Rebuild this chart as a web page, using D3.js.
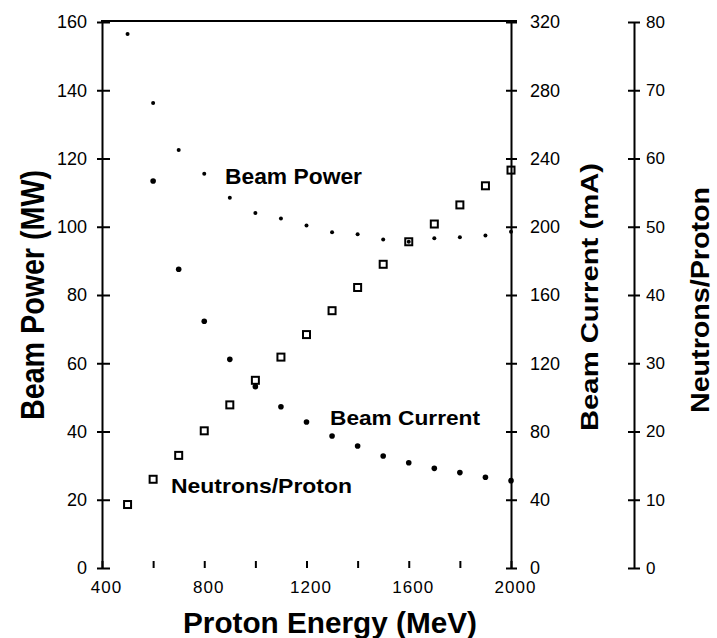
<!DOCTYPE html>
<html>
<head>
<meta charset="utf-8">
<script src="https://cdn.jsdelivr.net/npm/d3@7"></script>
<style>
  body { margin: 0; background: #fff; }
  svg { display: block; font-family: "Liberation Sans", Arial, Helvetica, sans-serif; }
</style>
</head>
<body>
<svg id="chart" width="717" height="638"></svg>
<script>
// values
const energy = [500, 600, 700, 800, 900, 1000, 1100, 1200, 1300, 1400, 1500, 1600, 1700, 1800, 1900, 2000];
const beamPower = [156.5, 136.3, 122.5, 115.5, 108.5, 104.0, 102.4, 100.4, 98.4, 97.8, 96.3, 95.6, 96.6, 96.9, 97.4, 98.5];
const beamCurrent = [null, 226.8, 175.1, 144.6, 122.3, 106.3, 94.5, 85.6, 77.4, 71.5, 65.6, 61.7, 58.4, 55.9, 53.2, 51.2];
const neutronsPerProton = [9.3, 13.0, 16.5, 20.1, 23.9, 27.5, 30.9, 34.2, 37.7, 41.1, 44.5, 47.8, 50.4, 53.2, 56.0, 58.3];

const energyTicks = [400, 600, 800, 1000, 1200, 1400, 1600, 1800, 2000];
const energyLabels = [400, 800, 1200, 1600, 2000];
const powerTicks = [0, 20, 40, 60, 80, 100, 120, 140, 160];
const currentTicks = [0, 40, 80, 120, 160, 200, 240, 280, 320];
const neutronTicks = [0, 10, 20, 30, 40, 50, 60, 70, 80];

const svg = d3.select("#chart");
const ink = "#000";

const x = d3.scaleLinear().domain([400, 2000]).range([102, 511]);
const yP = d3.scaleLinear().domain([0, 160]).range([568, 22]);
const yC = d3.scaleLinear().domain([0, 320]).range([568, 22]);
const yN = d3.scaleLinear().domain([0, 80]).range([568, 22]);
const nAxisX = 634;

function styleAxis(g, size) {
  g.attr("font-family", null).attr("font-size", null);
  g.select(".domain").attr("stroke", ink).attr("stroke-width", 2);
  g.selectAll(".tick text").attr("fill", ink).style("font-size", size + "px");
}

// top frame line
svg.append("line")
  .attr("x1", x(400) - 1).attr("x2", x(2000) + 6)
  .attr("y1", yP(160) - 1).attr("y2", yP(160) - 1)
  .attr("stroke", ink).attr("stroke-width", 2);

// left axis (Beam Power)
const gL = svg.append("g").attr("transform", `translate(${x(400)},0)`)
  .call(d3.axisLeft(yP).tickValues(powerTicks).tickSize(0).tickSizeOuter(0).tickPadding(15));
styleAxis(gL, 18);
gL.selectAll(".tick").append("line").attr("x1", -5).attr("x2", 8).attr("stroke", ink).attr("stroke-width", 2);

// right axis (Beam Current)
const gR = svg.append("g").attr("transform", `translate(${x(2000)},0)`)
  .call(d3.axisRight(yC).tickValues(currentTicks).tickSize(0).tickSizeOuter(0).tickPadding(19));
styleAxis(gR, 18);
gR.selectAll(".tick").append("line").attr("x1", -5).attr("x2", 6).attr("stroke", ink).attr("stroke-width", 2);

// third axis (Neutrons/Proton)
const gN = svg.append("g").attr("transform", `translate(${nAxisX},0)`)
  .call(d3.axisRight(yN).tickValues(neutronTicks).tickSize(0).tickSizeOuter(0).tickPadding(12));
styleAxis(gN, 17);
gN.selectAll(".tick").append("line").attr("x1", -6).attr("x2", 6).attr("stroke", ink).attr("stroke-width", 2);

// bottom ticks and labels (no baseline in the scan)
const gB = svg.append("g").attr("transform", `translate(0,${yP(0)})`)
  .call(d3.axisBottom(x).tickValues(energyTicks)
    .tickFormat(d => energyLabels.includes(d) ? d : "")
    .tickSize(-7).tickSizeOuter(0).tickPadding(13));
styleAxis(gB, 17);
gB.select(".domain").remove();
gB.selectAll(".tick line").attr("stroke", ink).attr("stroke-width", 2);
gB.selectAll(".tick text").attr("dx", 4).style("letter-spacing", "1px");

// series
const rows = energy.map((e, i) => ({ e, p: beamPower[i], c: beamCurrent[i], n: neutronsPerProton[i] }));

svg.append("g").selectAll("circle").data(rows.filter(d => d.p != null)).join("circle")
  .attr("cx", d => x(d.e)).attr("cy", d => yP(d.p)).attr("r", 2).attr("fill", ink);

svg.append("g").selectAll("circle").data(rows.filter(d => d.c != null)).join("circle")
  .attr("cx", d => x(d.e)).attr("cy", d => yC(d.c)).attr("r", 2.8).attr("fill", ink);

const sq = 7;
svg.append("g").selectAll("rect").data(rows.filter(d => d.n != null)).join("rect")
  .attr("x", d => x(d.e) - sq / 2).attr("y", d => yN(d.n) - sq / 2)
  .attr("width", sq).attr("height", sq)
  .attr("fill", "none").attr("stroke", ink).attr("stroke-width", 2);

// in-plot labels
function label(txt, px, py, size, len, weight) {
  svg.append("text").attr("x", px).attr("y", py)
    .attr("font-size", size).attr("font-weight", weight)
    .attr("textLength", len).attr("lengthAdjust", "spacingAndGlyphs")
    .attr("fill", ink).text(txt);
}
label("Beam Power", 225, 184, 22, 137, "bold");
label("Beam Current", 330, 425, 20, 150, "bold");
label("Neutrons/Proton", 171, 493, 21, 181, "bold");

// axis titles
function vtitle(txt, px, py, size, len) {
  svg.append("text").attr("transform", `translate(${px},${py}) rotate(-90)`)
    .attr("text-anchor", "middle").attr("font-size", size).attr("font-weight", "bold")
    .attr("textLength", len).attr("lengthAdjust", "spacingAndGlyphs")
    .attr("fill", ink).text(txt);
}
vtitle("Beam Power (MW)", 44, 295, 33, 250);
vtitle("Beam Current (mA)", 598, 297, 24, 268);
vtitle("Neutrons/Proton", 709, 300, 25, 226);

svg.append("text").attr("x", 330).attr("y", 633)
  .attr("text-anchor", "middle").attr("font-size", 29).attr("font-weight", "bold")
  .attr("textLength", 294).attr("lengthAdjust", "spacingAndGlyphs")
  .attr("fill", ink).text("Proton Energy (MeV)");
</script>
</body>
</html>
